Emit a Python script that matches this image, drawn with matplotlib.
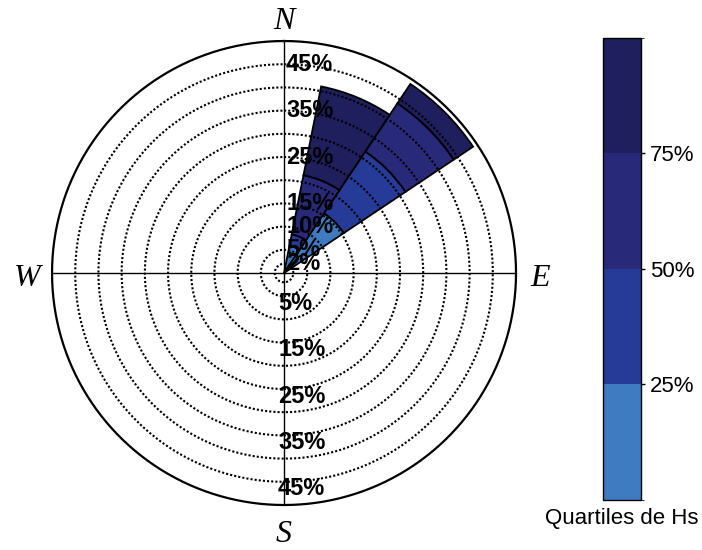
"""Wave rose of Hs quartiles per direction, redrawn with matplotlib."""

import matplotlib
matplotlib.use("Agg")
import matplotlib.pyplot as plt
import numpy as np
from matplotlib.colors import ListedColormap, BoundaryNorm
from matplotlib.cm import ScalarMappable
from matplotlib.transforms import offset_copy

# ---- Data (percent of occurrences) ----
DIRECTIONS_DEG = [22.5, 45.0]          # sector centres, clockwise from N
SECTOR_WIDTH_DEG = 22.5
# band contributions per quartile class, one list per direction
Q1_PCT = [6.0, 15.5]
Q2_PCT = [2.5, 16.0]
Q3_PCT = [13.0, 12.5]
Q4_PCT = [19.5, 5.0]

QUARTILE_COLORS = ["#3e7bc1", "#263a97", "#29297a", "#1f1f5d"]
QUARTILE_TICKS = [25, 50, 75]
QUARTILE_TICKLABELS = ["25%", "50%", "75%"]

RING_PCT = [2, 5, 10, 15, 20, 25, 30, 35, 40, 45]
R_MAX = 50
TOP_LABEL_PCT = [45, 35, 25, 15, 10, 5, 2]
BOTTOM_LABEL_PCT = [5, 15, 25, 35, 45]


def main() -> None:
    fig = plt.figure(figsize=(7.02, 5.50), dpi=100)
    ax = fig.add_axes([0.0741, 0.0818, 0.661, 0.8436], projection="polar")
    ax.set_theta_zero_location("N")
    ax.set_theta_direction(-1)
    ax.set_ylim(0, R_MAX)
    ax.axis("off")

    theta = np.deg2rad(DIRECTIONS_DEG)
    width = np.deg2rad(SECTOR_WIDTH_DEG)
    bottom = np.zeros(len(DIRECTIONS_DEG))
    for vals, col in zip([Q1_PCT, Q2_PCT, Q3_PCT, Q4_PCT], QUARTILE_COLORS):
        ax.bar(theta, vals, width=width, bottom=bottom, color=col,
               edgecolor="black", linewidth=1.3, zorder=2)
        bottom = bottom + np.array(vals)

    # Dotted rings and solid outer circle
    t = np.linspace(0, 2 * np.pi, 721)
    for r in RING_PCT:
        ax.plot(t, np.full_like(t, r), color="black", linestyle=(0, (1.0, 1.0)),
                linewidth=1.5, zorder=3)
    ax.plot(t, np.full_like(t, R_MAX), color="black", linewidth=1.6,
            zorder=3, clip_on=False)

    # Cross lines
    for a in [0, 0.5 * np.pi, np.pi, 1.5 * np.pi]:
        ax.plot([a, a], [0, R_MAX], color="black", linewidth=1.0, zorder=3)

    # Radial labels
    top_tr = offset_copy(ax.transData, fig=fig, x=2, y=0, units="dots")
    for p in TOP_LABEL_PCT:
        ax.text(0, p, f"{p}%", transform=top_tr, ha="left", va="center",
                fontsize=17, fontweight="bold", family="Liberation Sans",
                zorder=5)
    bot_tr = offset_copy(ax.transData, fig=fig, x=-6, y=-7, units="dots")
    for p in BOTTOM_LABEL_PCT:
        ax.text(np.pi, p, f"{p}%", transform=bot_tr, ha="left", va="center",
                fontsize=17, fontweight="bold", family="Liberation Sans",
                zorder=5)

    # Compass letters
    letter_tr = offset_copy(ax.transData, fig=fig, x=0, y=-5, units="dots")
    for a, lab in zip([0, 90, 180, 270], ["N", "E", "S", "W"]):
        ax.text(np.deg2rad(a), R_MAX * 1.105, lab, transform=letter_tr,
                ha="center", va="center", fontsize=23, style="italic",
                family="Liberation Serif", clip_on=False)

    # Colorbar of quartile classes
    cmap = ListedColormap(QUARTILE_COLORS)
    norm = BoundaryNorm([0, 25, 50, 75, 100], cmap.N)
    cax = fig.add_axes([0.859, 0.091, 0.054, 0.84])
    cb = fig.colorbar(ScalarMappable(norm=norm, cmap=cmap), cax=cax)
    cb.set_ticks(QUARTILE_TICKS)
    cb.set_ticklabels(QUARTILE_TICKLABELS)
    cb.outline.set_linewidth(1.0)
    cax.tick_params(labelsize=16, length=3, width=1)
    for lab in cax.get_yticklabels():
        lab.set_family("Liberation Sans")
    cax.set_xlabel("Quartiles de Hs", fontsize=16, family="Liberation Sans",
                   labelpad=6)

    fig.savefig("out.png", dpi=100)


if __name__ == "__main__":
    main()
